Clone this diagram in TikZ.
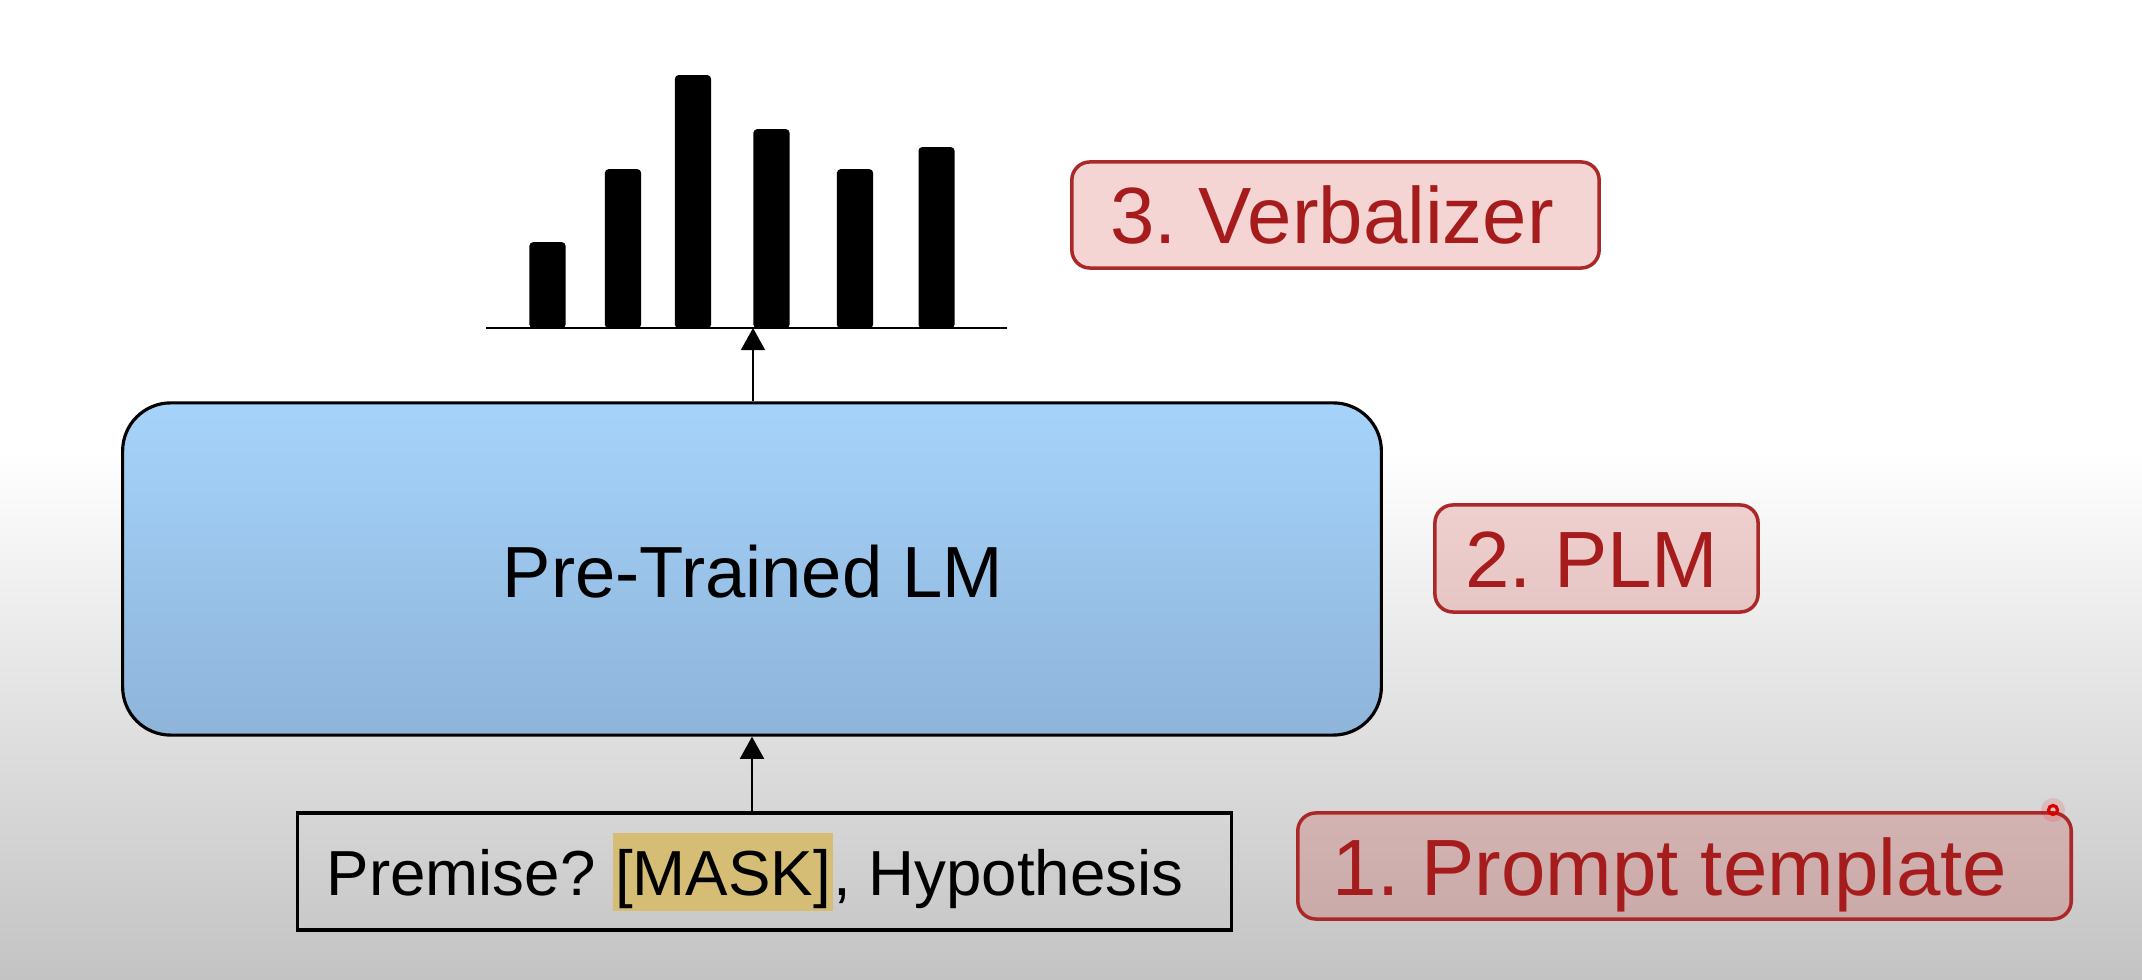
\documentclass[tikz,border=0pt]{standalone}
\usepackage{fontspec}
\setmainfont{Liberation Sans}
\usetikzlibrary{arrows.meta}
\definecolor{redtxt}{RGB}{166,28,28}
\definecolor{redline}{RGB}{170,40,40}
\definecolor{redfill}{RGB}{205,40,40}
\definecolor{masky}{RGB}{213,189,118}
\definecolor{boxtop}{RGB}{166,211,250}
\definecolor{boxbot}{RGB}{142,180,218}
\definecolor{bgbot}{RGB}{195,195,195}
\frenchspacing
\begin{document}
\begin{tikzpicture}[x=0.01cm,y=-0.01cm,
  redbox/.style={draw=redline, line width=1pt, fill=redfill, fill opacity=0.2, draw opacity=1, rounded corners=0.18cm, inner sep=0pt},
  redlabel/.style={text=redtxt, anchor=base, inner sep=0pt, font=\fontsize{22.7}{27}\selectfont},
  bar/.style={fill=black, anchor=south, minimum width=0.36cm, inner sep=0pt, rounded corners=1pt},
  arr/.style={line width=0.6pt, -{Triangle[width=6.8pt,length=6.3pt]}},
  plmbox/.style={draw=black, line width=0.9pt, top color=boxtop, bottom color=boxbot, rounded corners=0.48cm, inner sep=0pt},
  promptbox/.style={draw=black, line width=1pt, inner sep=0pt}
]
\useasboundingbox (0,0) rectangle (2142,980);
\fill[white] (0,0) rectangle (2142,452);
\shade[top color=white, bottom color=bgbot] (0,450) rectangle (2142,980);

% main PLM box
\node[plmbox, minimum width=12.58cm, minimum height=3.32cm] (plm) at (752,569) {};
\node[anchor=base, inner sep=0pt, font=\fontsize{20.6}{24}\selectfont] (plmtext) at (753,598) {Pre-Trained LM};

% prompt box
\node[promptbox, minimum width=9.33cm, minimum height=1.17cm] (prompt) at (764.5,871.5) {};
\node[anchor=base, inner sep=0pt, font=\fontsize{18.1}{22}\selectfont] (ptext) at (755,896)
  {Premise? {\setlength{\fboxsep}{0.6pt}\colorbox{masky}{\rule[-3.4pt]{0pt}{20.6pt}[MASK]}}, Hypothesis};

% distribution axis and bars
\coordinate (axl) at (486,328);
\coordinate (axr) at (1007,328);
\coordinate (axhit) at (753,328);
\draw[line width=0.7pt] (axl) -- (axr);
\node[bar, minimum height=0.86cm] (b1) at (547.5,329) {};
\node[bar, minimum height=1.59cm] (b2) at (623,329) {};
\node[bar, minimum height=2.53cm] (b3) at (693,329) {};
\node[bar, minimum height=1.99cm] (b4) at (771.5,329) {};
\node[bar, minimum height=1.59cm] (b5) at (855,329) {};
\node[bar, minimum height=1.81cm] (b6) at (936.5,329) {};

% arrows
\draw[arr] (plm.north -| axhit) -- (axhit);
\draw[arr] (prompt.north -| plm.south) -- (plm.south);

% red labels
\node[redbox, minimum width=5.27cm, minimum height=1.06cm] (verb) at (1335.5,215) {};
\node[redlabel] (verbt) at (1332,244) {3. Verbalizer};
\node[redbox, minimum width=3.23cm, minimum height=1.07cm] (plmlab) at (1596.5,558.5) {};
\node[redlabel] (plmt) at (1592,588) {2. PLM};
\node[redbox, minimum width=7.73cm, minimum height=1.06cm] (ptlab) at (1684.5,866) {};
\node[redlabel] (ptt) at (1670,896) {1. Prompt template};

% pen cursor mark
\fill[red, opacity=0.12] (2053,810) circle[radius=0.12cm];
\draw[red!85!black, line width=0.9pt] (2053,810) circle[radius=0.045cm];
\end{tikzpicture}
\end{document}
